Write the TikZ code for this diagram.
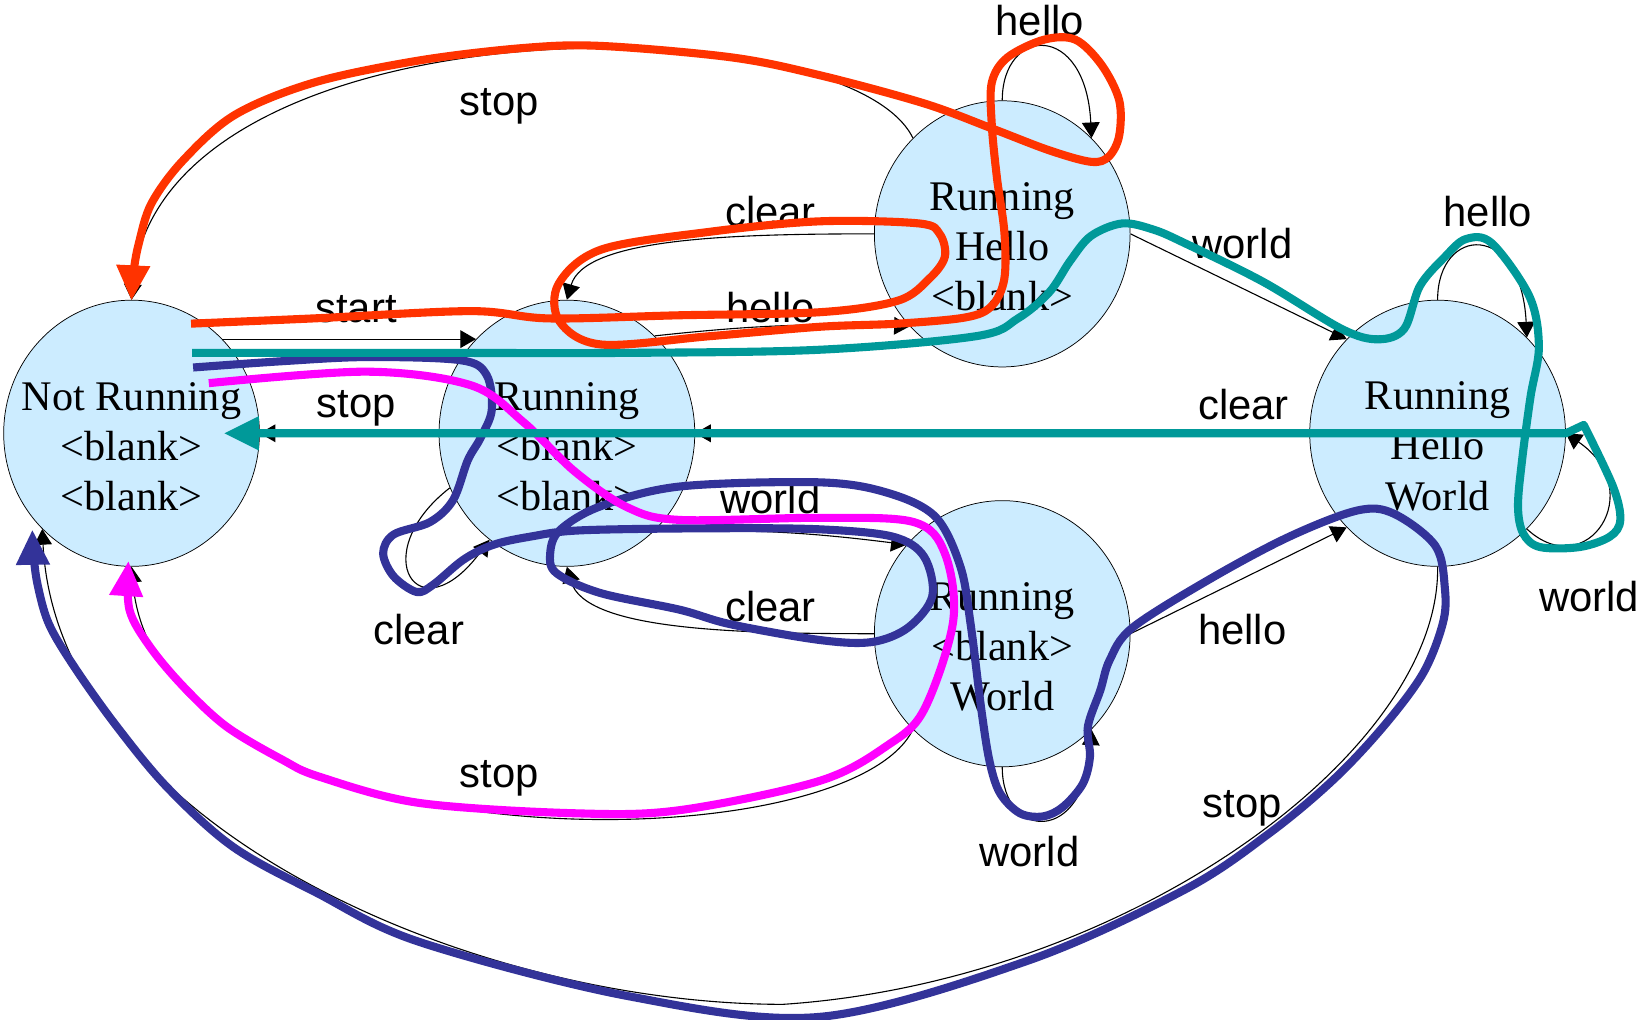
\documentclass[tikz,border=0pt]{standalone}
\usepackage{fontspec}
\setmainfont{Liberation Serif}
\newfontfamily\labelfont{Liberation Sans}
\usetikzlibrary{shapes.geometric,arrows.meta}
\definecolor{statefill}{HTML}{CCECFF}
\definecolor{tracered}{HTML}{FF3300}
\definecolor{traceteal}{HTML}{009999}
\definecolor{traceblue}{HTML}{333399}
\definecolor{tracepink}{HTML}{FF00FF}
\tikzset{
        x=0.02cm, y=0.02cm, % one unit is one pixel of the drawing
        >={Triangle[length=0.3cm,width=0.34cm]}, % small black heads on the transitions
        statebox/.style={ellipse, draw, fill=statefill, minimum width=4.9cm, minimum height=5.1cm, inner sep=0pt},
        statetext/.style={font=\fontsize{23}{27.3}\selectfont, align=center, yshift=-0.25cm},
        lbl/.style={font=\labelfont\fontsize{22.8}{27}\selectfont, anchor=base, inner sep=0pt},
        trans/.style={->, line width=0.6pt},
        trace/.style={line width=0.155cm, line join=round, -{Triangle[length=0.66cm,width=0.66cm,line width=0pt]}},
}
\begin{document}
\begin{tikzpicture}
\useasboundingbox (0,0) rectangle (1568,-977);

% states
\node[statebox] (nr)  at (126,-415)  {};
\node[statebox] (r0)  at (543,-415)  {};
\node[statebox] (rh)  at (960,-224)  {};
\node[statebox] (rw)  at (960,-607)  {};
\node[statebox] (rhw) at (1377,-415) {};

\node[statetext] (nrtext)  at (nr)  {Not Running\\<blank>\\<blank>};
\node[statetext] (r0text)  at (r0)  {Running\\<blank>\\<blank>};
\node[statetext] (rhtext)  at (rh)  {Running\\Hello\\<blank>};
\node[statetext] (rwtext)  at (rw)  {Running\\<blank>\\World};
\node[statetext] (rhwtext) at (rhw) {Running\\Hello\\World};

% transitions
\draw[trans] (nr.46) -- (r0.134);
\draw[trans] (r0.west) -- (nr.east);
\draw[trans] (r0.48) to[bend left=4] (rh.225);
\draw[trans] (rh.west) .. controls (700,-224) and (560,-228) .. (r0.north);
\draw[trans] (rh.133) .. controls (810,0) and (150,0) .. (nr.north);
\draw[trans] (rh.north) .. controls (960,-25) and (1040,-20) .. (rh.47);
\draw[trans] (rh.east) -- (rhw.134);
\draw[trans] (rhw.north) .. controls (1377,-216) and (1457,-211) .. (rhw.47);
\draw[trans] (rhw.313) .. controls (1520,-560) and (1580,-470) .. (rhw.east);
\draw[trans] (rhw.west) -- (r0.east);
\draw[trans] (r0.205) .. controls (350,-530) and (400,-610) .. (r0.234);
\draw[trans] (r0.312) to[bend left=4] (rw.137);
\draw[trans] (rw.west) .. controls (700,-607) and (560,-603) .. (r0.south);
\draw[trans] (rw.south) .. controls (960,-805) and (1040,-810) .. (rw.313);
\draw[trans] (rw.east) -- (rhw.226);
\draw[trans] (rw.227) .. controls (810,-831) and (150,-831) .. (nr.south);
\draw[trans] (rhw.south) .. controls (1380,-720) and (1080,-940) .. (750,-962)
             .. controls (450,-962) and (55,-790) .. (nr.227);

% transition labels
\foreach \x/\y/\t/\n in {478/111/stop/lstoptop, 996/34/hello/lhellorh, 738/217/clear/lclearrh,
        1190/248/world/lworldrh, 1425/217/hello/lhellorhw, 341/309/start/lstart,
        738/309/hello/lhellor, 341/400/stop/lstopr, 1191/402/clear/lclearrhw,
        738/492/world/lworldr, 401/617/clear/lclearr, 738/595/clear/lclearrw,
        1190/617/hello/lhellorw, 1522/586/world/lworldrhw, 478/754/stop/lstoprw,
        1190/783/stop/lstoprhw, 986/830/world/lworldrw}
  \node[lbl] (\n) at (\x,-\y) {\t};

% traces
\draw[trace, tracered] plot[smooth, tension=0.55] coordinates {(183,-310) (300,-305) (451,-298)
  (526,-305) (650,-302) (786,-299) (860,-288) (890,-267) (905,-246) (900,-224) (880,-214)
  (785,-212) (680,-222) (576,-239) (535,-272) (536,-308) (576,-330) (680,-322) (785,-313)
  (860,-310) (925,-304) (950,-293) (962,-267) (962,-222) (955,-171) (950,-120) (950,-79)
  (965,-55) (1000,-38) (1030,-38) (1055,-62) (1072,-96) (1072,-130) (1062,-150) (1045,-155)
  (1005,-144) (950,-123) (885,-99) (785,-72) (701,-55) (576,-44) (501,-46) (401,-58)
  (301,-79) (225,-110) (175,-154) (145,-195) (133,-233) (128,-260) (nr.north)};

\draw[trace, traceblue] plot[smooth, tension=0.55] coordinates {(185,-352) (270,-346) (351,-342)
  (441,-345) (466,-359) (471,-393) (460,-420) (448,-441) (434,-479) (412,-500) (377,-512)
  (367,-530) (377,-552) (399,-567) (415,-560) (444,-536) (472,-522) (508,-514) (556,-508)
  (680,-506) (785,-507) (855,-514) (885,-533) (893,-571) (870,-601) (835,-615) (785,-613)
  (700,-598) (651,-584) (575,-568) (533,-549) (527,-530) (536,-508) (575,-485) (651,-466)
  (785,-462) (850,-472) (896,-495) (920,-543) (930,-600) (940,-680) (948,-730) (958,-760)
  (977,-779) (999,-782) (1018,-773) (1037,-751) (1044,-725) (1042,-696) (1054,-661)
  (1063,-632) (1085,-601) (1160,-554) (1235,-514) (1300,-489) (1335,-492) (1375,-523)
  (1384,-564) (1382,-597) (1363,-645) (1325,-696) (1277,-747) (1216,-798) (1135,-852)
  (985,-920) (785,-974) (601,-954) (401,-902) (303,-855) (223,-811) (160,-754) (112,-696)
  (72,-640) (47,-598) (36,-560) (32,-530) (31,-508)};

\draw[trace, tracepink] plot[smooth, tension=0.55] coordinates {(200,-367) (351,-356) (451,-369)
  (501,-404) (551,-452) (601,-486) (651,-498) (785,-496) (875,-500) (905,-530) (913,-595)
  (885,-680) (850,-714) (785,-748) (651,-776) (551,-779) (401,-769) (306,-744) (271,-728)
  (217,-696) (176,-658) (144,-620) (124,-584) (123,-538)};

\draw[trace, traceteal] plot[smooth, tension=0.55] coordinates {(184,-338) (400,-338) (600,-338)
  (785,-335) (935,-322) (975,-305) (1005,-280) (1025,-250) (1045,-226) (1075,-214)
  (1105,-220) (1135,-233) (1210,-270) (1285,-315) (1320,-325) (1345,-315) (1360,-274)
  (1384,-246) (1404,-229) (1429,-233) (1465,-284) (1474,-332) (1466,-380) (1458,-440)
  (1454,-485) (1459,-511) (1475,-524) (1513,-524) (1542,-514) (1552,-498) (1545,-466)
  (1517,-407)} -- (1500,-415) -- (215,-415);
\end{tikzpicture}
\end{document}
